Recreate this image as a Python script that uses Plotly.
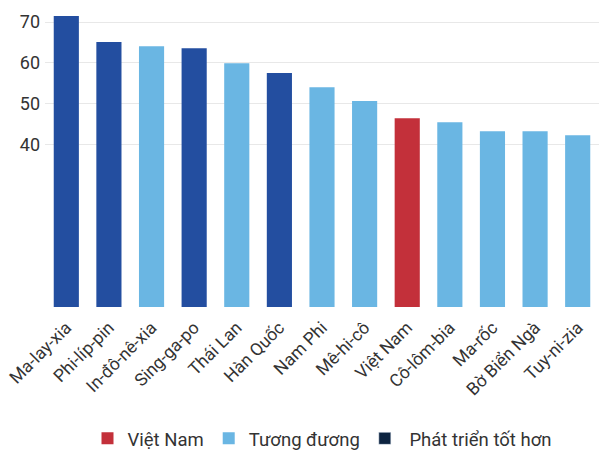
import plotly.graph_objects as go

countries = ["Ma-lay-xia", "Phi-líp-pin", "In-đô-nê-xia", "Sing-ga-po", "Thái Lan",
             "Hàn Quốc", "Nam Phi", "Mê-hi-cô", "Việt Nam", "Cô-lôm-bia",
             "Ma-rốc", "Bờ Biển Ngà", "Tuy-ni-zia"]
values = [71.5, 65.1, 64.1, 63.6, 59.9, 57.5, 54.0, 50.6, 46.4, 45.4, 43.2, 43.2, 42.2]
groups = ["better", "better", "equal", "better", "equal", "better", "equal",
          "equal", "vn", "equal", "equal", "equal", "equal"]
y_ticks = [40, 50, 60, 70]

colors = {"vn": "#C3303A", "equal": "#6AB6E3", "better": "#234EA0"}
names = {"vn": "Việt Nam", "equal": "Tương đương", "better": "Phát triển tốt hơn"}

fig = go.Figure()
for g in ["vn", "equal", "better"]:
    ys = [v if gg == g else None for v, gg in zip(values, groups)]
    fig.add_trace(go.Bar(
        x=countries, y=ys, name=names[g],
        marker=dict(color=colors[g], line=dict(width=0)),
        showlegend=(g != "better"),
    ))

# legend-only entry, drawn in a darker navy than the bars
fig.add_trace(go.Bar(
    x=[countries[0]], y=[None], name=" Phát triển tốt hơn",
    marker=dict(color="#0C2340"), showlegend=True,
))

fig.update_layout(
    width=601, height=452,
    barmode="overlay",
    bargap=0.41,
    plot_bgcolor="white",
    paper_bgcolor="white",
    margin=dict(l=45, r=2, t=14, b=145, autoexpand=False),
    font=dict(family="Roboto", color="#333333"),
    legend=dict(orientation="h", x=0.5, xanchor="center", y=-0.385, yanchor="top",
                font=dict(size=18.5), itemwidth=30, traceorder="normal"),
    xaxis=dict(categoryorder="array", categoryarray=countries, automargin=False,
               tickangle=-45, tickfont=dict(size=17.5), ticklabelstandoff=6,
               showgrid=False, showline=False),
    yaxis=dict(range=[0, 72], tickvals=y_ticks, tickfont=dict(size=18), automargin=False,
               ticklabelstandoff=4, gridcolor="#E8E8E8", zeroline=False, showline=False),
)

fig.write_html("out.html", config={"displayModeBar": False},
               post_script="document.body.style.margin='0';")
